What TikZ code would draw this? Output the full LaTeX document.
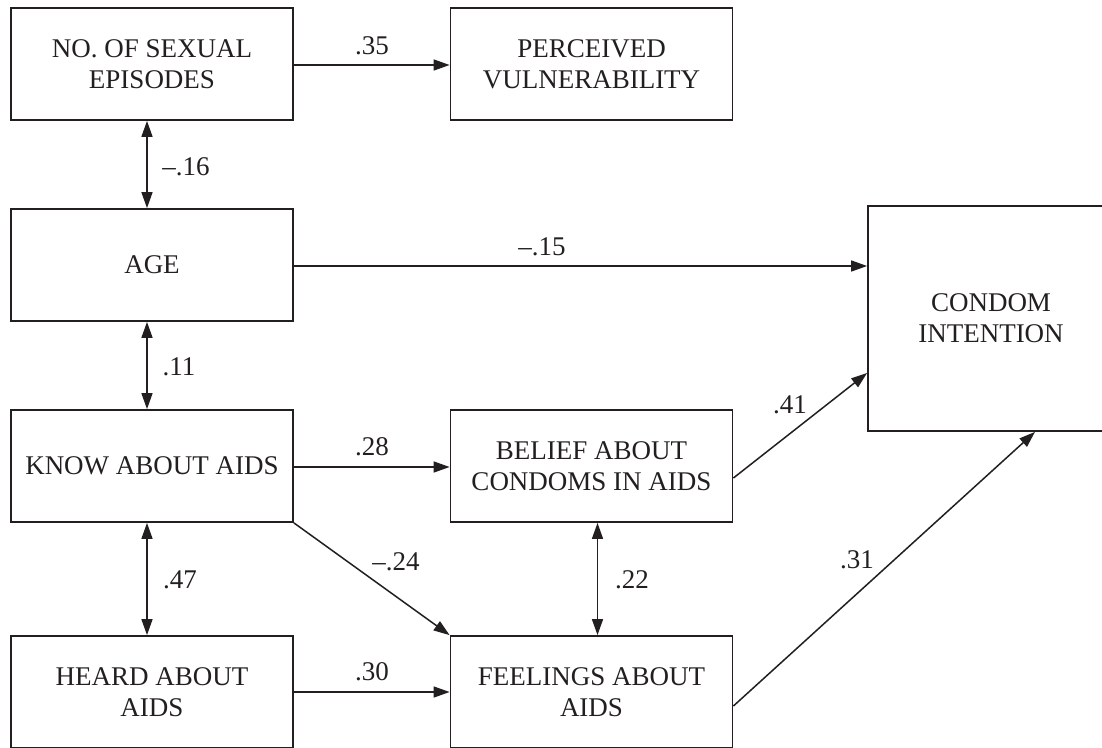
\documentclass[tikz,border=0pt]{standalone}
\usepackage{fontspec}
\setmainfont{Liberation Serif}
\usetikzlibrary{arrows.meta}
\definecolor{ink}{HTML}{231F20}
\tikzset{
  box/.style={draw=ink, line width=1.8pt, text=ink, align=center,
    minimum width=282pt, minimum height=112pt, inner sep=0pt,
    font=\fontsize{27}{31}\selectfont},
  coef/.style={text=ink, inner sep=0pt, font=\fontsize{27}{31}\selectfont},
  path1/.style={draw=ink, line width=1.5pt, -{Triangle[length=16pt,width=11pt]}},
  path2/.style={draw=ink, line width=1.5pt, {Triangle[length=16pt,width=11pt]}-{Triangle[length=16pt,width=11pt]}}
}
\begin{document}
\begin{tikzpicture}[x=1pt,y=-1pt]
\useasboundingbox (0,0) rectangle (1102,747);
\fill[white] (0,0) rectangle (1102,747);

% variables
\node[box] (nse) at (152,64)  {NO. OF SEXUAL\\EPISODES};
\node[box] (pv)  at (591.5,64) {PERCEIVED\\VULNERABILITY};
\node[box] (age) at (152,265) {AGE};
\node[box] (kn)  at (152,466) {KNOW ABOUT AIDS};
\node[box] (bel) at (591.5,466) {BELIEF ABOUT\\CONDOMS IN AIDS};
\node[box] (hr)  at (152,692) {HEARD ABOUT\\AIDS};
\node[box] (fee) at (591.5,692) {FEELINGS ABOUT\\AIDS};
\node[box, minimum width=246pt, minimum height=225pt] (ci) at (991,318.5) {CONDOM\\INTENTION};

% correlations
\draw[path2] ([xshift=-5pt]nse.south) -- ([xshift=-5pt]age.north);
\draw[path2] ([xshift=-5pt]age.south) -- ([xshift=-5pt]kn.north);
\draw[path2] ([xshift=-5pt]kn.south) -- ([xshift=-5pt]hr.north);
\draw[path2] ([xshift=6pt]bel.south) -- ([xshift=6pt]fee.north);

% directed paths
\draw[path1] ([yshift=-1pt]nse.east) -- ([yshift=-1pt]pv.west);
\draw[path1] ([yshift=-1pt]age.east) -- ([yshift=-1pt,xshift=0pt]age.east -| ci.west);
\draw[path1] ([yshift=-1pt]kn.east) -- ([yshift=-1pt]bel.west);
\draw[path1] (hr.east) -- (fee.west);
\draw[path1] (kn.south east) -- (fee.north west);
\draw[path1] ([yshift=-12pt]bel.east) -- ([yshift=-54.5pt]ci.west);
\draw[path1] ([yshift=-14pt]fee.east) -- ([xshift=44pt]ci.south);

% coefficients
\node[coef] (l16) at (186,167) {–.16};
\node[coef] (l11) at (179,367) {.11};
\node[coef] (l47) at (180,580) {.47};
\node[coef] (l22) at (632,580) {.22};
\node[coef] (l35) at (372,46)  {.35};
\node[coef] (l15) at (542,247) {–.15};
\node[coef] (l28) at (372,447) {.28};
\node[coef] (l30) at (372,672) {.30};
\node[coef] (l24) at (396,562) {–.24};
\node[coef] (l41) at (790,405) {.41};
\node[coef] (l31) at (857,560) {.31};
\end{tikzpicture}
\end{document}
